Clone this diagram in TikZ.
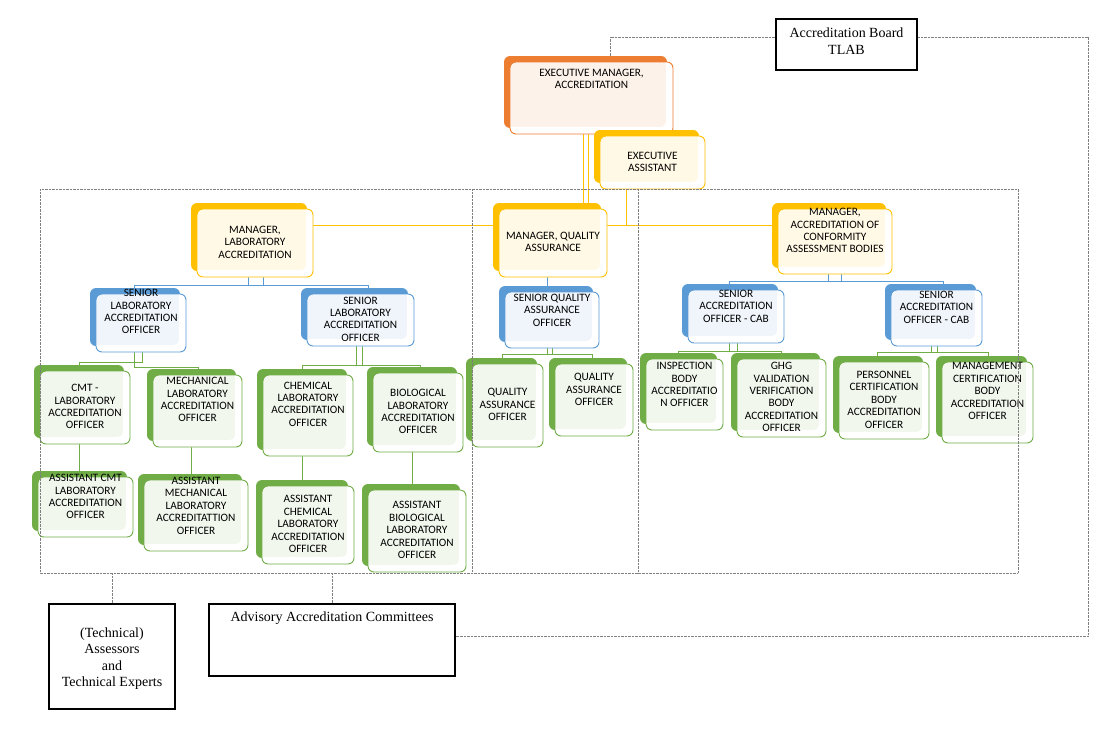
\documentclass[tikz,border=0pt]{standalone}
\usepackage{fontspec}
\setmainfont{Liberation Serif}
\newfontfamily\orgfont{Carlito}
\usetikzlibrary{shadows,backgrounds}

\definecolor{exorange}{HTML}{ED7D31}
\definecolor{mgryellow}{HTML}{FFC000}
\definecolor{snrblue}{HTML}{5B9BD5}
\definecolor{offgreen}{HTML}{70AD47}
\definecolor{frgray}{HTML}{7F7F7F}

\newcommand{\boxtxt}[2][0pt]{\raisebox{\dimexpr#1-3pt\relax}[0pt][0pt]{\makebox[0pt]{\begin{tabular}{@{}c@{}}#2\end{tabular}}}}

\begin{document}
\begin{tikzpicture}[x=1pt, y=-1pt,
		orgbox/.style={rectangle, rounded corners=6pt, inner sep=0pt, draw=#1, line width=0.9pt, fill=#1!10!white,
			copy shadow={shadow xshift=-6pt, shadow yshift=6pt, draw=none, fill=#1},
			path picture={\fill[white, rounded corners=5pt]
				([shift={(-7pt,10pt)}]path picture bounding box.north east)
				|- ([shift={(-10pt,7pt)}]path picture bounding box.south west)
				-- ([shift={(-10pt,-10pt)}]path picture bounding box.south west)
				-| ([shift={(10pt,10pt)}]path picture bounding box.north east) -- cycle;},
			font=\orgfont\fontsize{11.3pt}{12.4pt}\selectfont},
		blkbox/.style={rectangle, draw, line width=2pt, inner sep=0pt, font=\fontsize{14pt}{16.5pt}\selectfont},
		link/.style={draw=#1, line width=1pt},
		frameline/.style={draw=frgray, line width=0.7pt, dash pattern=on 0.7pt off 0.7pt}]
		\useasboundingbox (0,0) rectangle (1117,731);

		% top of the chart
		\node[blkbox, minimum width=141pt, minimum height=51pt] (board) at (846.5,44.5) {\boxtxt[1pt]{Accreditation Board\\TLAB}};
		\node[orgbox=exorange, minimum width=163pt, minimum height=72pt] (em) at (591.5,98) {\boxtxt[18pt]{EXECUTIVE MANAGER,\\ACCREDITATION}};
		\node[orgbox=mgryellow, minimum width=105pt, minimum height=53pt] (ea) at (652.5,162.5) {\boxtxt{EXECUTIVE\\ASSISTANT}};

		% managers
		\node[orgbox=mgryellow, minimum width=116pt, minimum height=68pt] (mla) at (255,243) {\boxtxt{MANAGER,\\LABORATORY\\ACCREDITATION}};
		\node[orgbox=mgryellow, minimum width=108pt, minimum height=68pt] (mqa) at (553,243) {\boxtxt{MANAGER, QUALITY\\ASSURANCE}};
		\node[orgbox=mgryellow, minimum width=114pt, minimum height=65pt] (mcab) at (835,241.5) {\boxtxt[10pt]{MANAGER,\\ACCREDITATION OF\\CONFORMITY\\ASSESSMENT BODIES}};

		% senior officers
		\node[orgbox=snrblue, minimum width=90pt, minimum height=58pt] (sl1) at (141,323) {\boxtxt[10.5pt]{SENIOR\\LABORATORY\\ACCREDITATION\\OFFICER}};
		\node[orgbox=snrblue, minimum width=107pt, minimum height=52pt] (sl2) at (360.5,320) {\boxtxt{SENIOR\\LABORATORY\\ACCREDITATION\\OFFICER}};
		\node[orgbox=snrblue, minimum width=94pt, minimum height=56pt] (sqa) at (552,320) {\boxtxt[9pt]{SENIOR QUALITY\\ASSURANCE\\OFFICER}};
		\node[orgbox=snrblue, minimum width=96pt, minimum height=53pt] (sc1) at (736,316.5) {\boxtxt[9.5pt]{SENIOR\\ACCREDITATION\\OFFICER - CAB}};
		\node[orgbox=snrblue, minimum width=91pt, minimum height=56pt] (sc2) at (936.5,318) {\boxtxt[10pt]{SENIOR\\ACCREDITATION\\OFFICER - CAB}};

		% officers
		\node[orgbox=offgreen, minimum width=90pt, minimum height=73pt] (cmt) at (85,407.5) {\boxtxt{CMT -\\LABORATORY\\ACCREDITATION\\OFFICER}};
		\node[orgbox=offgreen, minimum width=89pt, minimum height=72pt] (mech) at (197.5,411) {\boxtxt[10.5pt]{MECHANICAL\\LABORATORY\\ACCREDITATION\\OFFICER}};
		\node[orgbox=offgreen, minimum width=90pt, minimum height=81pt] (chem) at (308,415.5) {\boxtxt[10.5pt]{CHEMICAL\\LABORATORY\\ACCREDITATION\\OFFICER}};
		\node[orgbox=offgreen, minimum width=90pt, minimum height=79pt] (bio) at (418,412.5) {\boxtxt{BIOLOGICAL\\LABORATORY\\ACCREDITATION\\OFFICER}};
		\node[orgbox=offgreen, minimum width=71pt, minimum height=83pt] (qa1) at (507.5,405.5) {\boxtxt{QUALITY\\ASSURANCE\\OFFICER}};
		\node[orgbox=offgreen, minimum width=78pt, minimum height=72pt] (qa2) at (594,400) {\boxtxt[9.5pt]{QUALITY\\ASSURANCE\\OFFICER}};
		\node[orgbox=offgreen, minimum width=77pt, minimum height=71pt] (insp) at (684.5,394.5) {\boxtxt[9pt]{INSPECTION\\BODY\\ACCREDITATIO\\N OFFICER}};
		\node[orgbox=offgreen, minimum width=89pt, minimum height=78pt] (ghg) at (781.5,398) {\boxtxt{GHG\\VALIDATION\\VERIFICATION\\BODY\\ACCREDITATION\\OFFICER}};
		\node[orgbox=offgreen, minimum width=90pt, minimum height=77pt] (pers) at (884,400.5) {\boxtxt{PERSONNEL\\CERTIFICATION\\BODY\\ACCREDITATION\\OFFICER}};
		\node[orgbox=offgreen, minimum width=91pt, minimum height=81pt] (mgmt) at (987.5,402.5) {\boxtxt[10.5pt]{MANAGEMENT\\CERTIFICATION\\BODY\\ACCREDITATION\\OFFICER}};

		% assistants
		\node[orgbox=offgreen, minimum width=95pt, minimum height=60pt] (acmt) at (85.5,507) {\boxtxt[9.5pt]{ASSISTANT CMT\\LABORATORY\\ACCREDITATION\\OFFICER}};
		\node[orgbox=offgreen, minimum width=104pt, minimum height=71pt] (amech) at (196,515.5) {\boxtxt[9pt]{ASSISTANT\\MECHANICAL\\LABORATORY\\ACCREDITATTION\\OFFICER}};
		\node[orgbox=offgreen, minimum width=92pt, minimum height=78pt] (achem) at (308,525) {\boxtxt{ASSISTANT\\CHEMICAL\\LABORATORY\\ACCREDITATION\\OFFICER}};
		\node[orgbox=offgreen, minimum width=98pt, minimum height=82pt] (abio) at (417,531) {\boxtxt{ASSISTANT\\BIOLOGICAL\\LABORATORY\\ACCREDITATION\\OFFICER}};

		% outside bodies
		\node[blkbox, minimum width=126pt, minimum height=105pt] (tech) at (112,656.5) {\boxtxt[-3pt]{(Technical)\\Assessors\\and\\Technical Experts}};
		\node[blkbox, minimum width=246pt, minimum height=72pt] (adv) at (332,640) {\boxtxt[21pt]{Advisory Accreditation Committees}};

		\begin{scope}[on background layer]
			\draw[link=mgryellow] ([xshift=-8.5pt]em.south) |- (mqa);
			\draw[link=mgryellow] ([xshift=-3.5pt]em.south) -- ++(0,91) -| (mla);
			\draw[link=mgryellow] ([xshift=-3.5pt]em.south) -- ++(0,91) -| (mcab);
			\draw[link=mgryellow] ([xshift=-26pt]ea.south) -- ++(0,36) -| (mqa);

			\draw[link=snrblue] ([xshift=8pt]mla.south) -- ++(0,8) -| ([xshift=-7pt]sl1.north);
			\draw[link=snrblue] ([xshift=-7pt]mla.south) -- ++(0,8) -| ([xshift=7.5pt]sl2.north);
			\draw[link=snrblue] ([xshift=-6pt]mqa.south) -- ([xshift=-5pt]sqa.north);
			\draw[link=snrblue] ([xshift=6.5pt]mcab.south) -- ++(0,7) -| ([xshift=-7pt]sc1.north);
			\draw[link=snrblue] ([xshift=-6.5pt]mcab.south) -- ++(0,7) -| ([xshift=6.5pt]sc2.north);

			\draw[link=offgreen] ([xshift=1pt]sl1.south) -- ++(0,10) -| ([xshift=-6pt]cmt.north);
			\draw[link=offgreen] ([xshift=-7pt]sl1.south) -- ++(0,15) -| ([xshift=0.5pt]mech.north);
			\draw[link=offgreen] ([xshift=1.5pt]sl2.south) -- ++(0,19) -| ([xshift=-6pt]chem.north);
			\draw[link=offgreen] ([xshift=-4.5pt]sl2.south) -- ++(0,19) -| ([xshift=2pt]bio.north);
			\draw[link=offgreen] (sqa.south) -- ++(0,6) -| ([xshift=-5.5pt]qa1.north);
			\draw[link=offgreen] ([xshift=-5pt]sqa.south) -- ++(0,6) -| ([xshift=-2pt]qa2.north);
			\draw[link=offgreen] ([xshift=1pt]sc1.south) -- ++(0,8) -| ([xshift=-6.5pt]insp.north);
			\draw[link=offgreen] ([xshift=-7pt]sc1.south) -- ++(0,8) -| ([xshift=-0.5pt]ghg.north);
			\draw[link=offgreen] ([xshift=0.5pt]sc2.south) -- ++(0,6) -| ([xshift=-7pt]pers.north);
			\draw[link=offgreen] ([xshift=-5.5pt]sc2.south) -- ++(0,6) -| ([xshift=0.5pt]mgmt.north);

			\draw[link=offgreen] ([xshift=-6pt]cmt.south) -- ([xshift=-6.5pt]acmt.north);
			\draw[link=offgreen] ([xshift=-6.5pt]mech.south) -- ([xshift=-5pt]amech.north);
			\draw[link=offgreen] ([xshift=-6pt]chem.south) -- ([xshift=-6pt]achem.north);
			\draw[link=offgreen] ([xshift=-6pt]bio.south) -- ([xshift=-5pt]abio.north);
		\end{scope}

		% dotted reporting lines
		\coordinate (fbot) at (0,573);
		\draw[frameline] (40,189) rectangle (1018,573);
		\draw[frameline] (472,189) -- (472,573);
		\draw[frameline] (638,189) -- (638,573);
		\draw[frameline] ([yshift=7.5pt]board.west) -| ([shift={(18.5pt,6pt)}]em.north);
		\draw[frameline] ([yshift=7.5pt]board.east) -- ++(170,0) |- ([yshift=3.5pt]adv.east);
		\draw[frameline] (tech.north) -- (tech.north |- fbot);
		\draw[frameline] (adv.north) -- (adv.north |- fbot);
	\end{tikzpicture}
\end{document}
